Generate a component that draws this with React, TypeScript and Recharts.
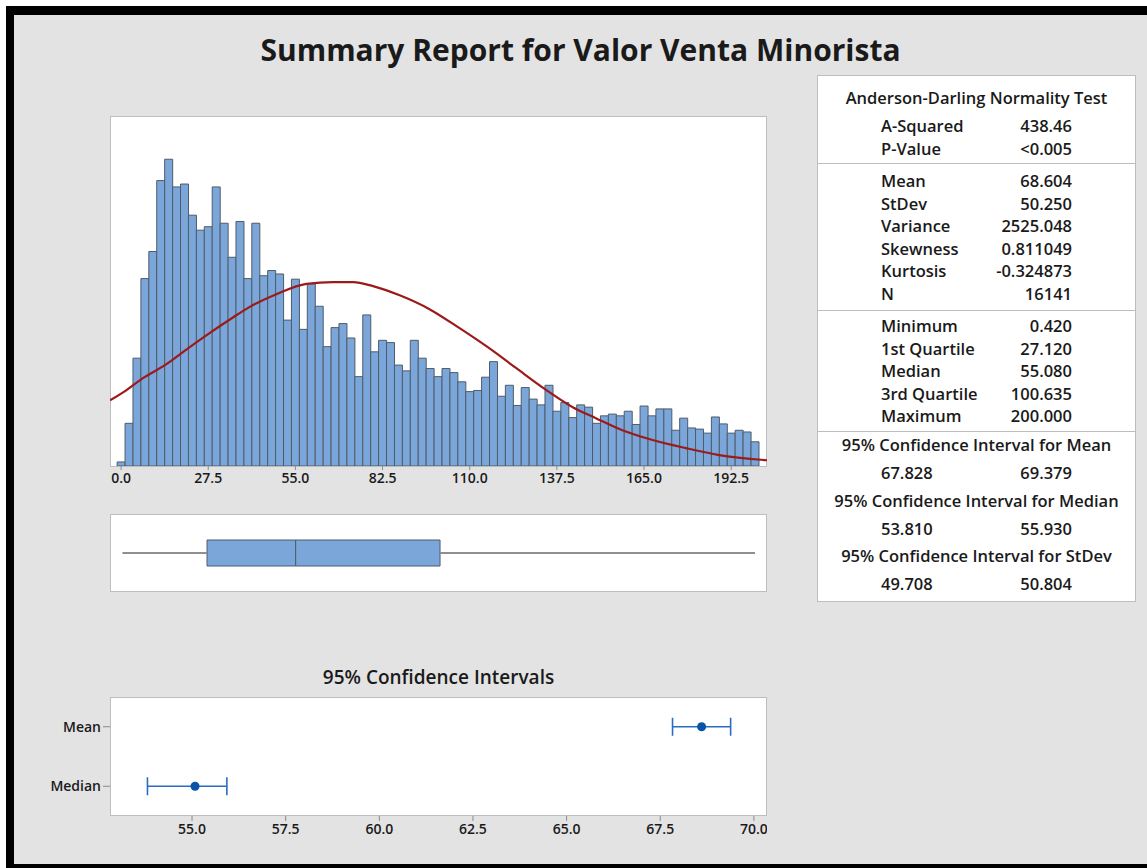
import {
  Bar,
  ComposedChart,
  ErrorBar,
  Line,
  ReferenceLine,
  Scatter,
  XAxis,
  YAxis,
  ZAxis,
} from "recharts";

const FONT = '"Segoe UI", "Open Sans", "Noto Sans", sans-serif';

// histogram: counts per 2.5-wide bin, first bin centred on 0.0
const BIN_WIDTH = 2.5;
const COUNTS = [
  7, 74, 187, 325, 372, 495, 532, 484, 489, 435,
  409, 415, 484, 421, 362, 424, 325, 421, 330, 339,
  333, 253, 324, 237, 316, 277, 207, 240, 247, 222,
  155, 262, 198, 218, 214, 175, 165, 218, 187, 169,
  155, 169, 162, 146, 129, 131, 154, 181, 121, 140,
  105, 136, 116, 106, 140, 95, 110, 84, 106, 102,
  74, 87, 90, 87, 95, 72, 104, 87, 99, 99,
  62, 83, 66, 64, 57, 85, 73, 57, 62, 59,
  42,
];
const HIST_TICKS = [0, 27.5, 55, 82.5, 110, 137.5, 165, 192.5];

// fitted normal curve
const CURVE_X = [
  -3.5, 1.25, 6, 14.4, 19.6, 27, 35.4, 40.6, 49, 58.5, 66.9, 73.2, 79.5,
  87.9, 97.3, 106.8, 115.7, 124.6, 134.1, 142.5, 149.8, 158.2, 167.7,
  178.2, 188.7, 203.8,
];
const CURVE_Y = [
  114, 130, 149, 177, 198, 227, 258, 276, 298, 316, 319, 319, 312,
  296, 272, 239, 206, 170, 132, 102, 83, 62, 45, 31, 19, 10,
];

// boxplot
const BOX_MIN = 0.42;
const BOX_Q1 = 27.12;
const BOX_MEDIAN = 55.08;
const BOX_Q3 = 100.635;
const BOX_MAX = 200;

// 95% confidence intervals
const CI_NAMES = ["Mean", "Median"];
const CI_ROW = [1, 0];
const CI_CENTER = [68.604, 55.08];
const CI_LOW = [67.828, 53.81];
const CI_HIGH = [69.379, 55.93];
const CI_TICKS = [55, 57.5, 60, 62.5, 65, 67.5, 70];

// stats table
const AD_ROWS = [
  ["A-Squared", "438.46"],
  ["P-Value", "<0.005"],
];
const MOMENT_ROWS = [
  ["Mean", "68.604"],
  ["StDev", "50.250"],
  ["Variance", "2525.048"],
  ["Skewness", "0.811049"],
  ["Kurtosis", "-0.324873"],
  ["N", "16141"],
];
const QUANTILE_ROWS = [
  ["Minimum", "0.420"],
  ["1st Quartile", "27.120"],
  ["Median", "55.080"],
  ["3rd Quartile", "100.635"],
  ["Maximum", "200.000"],
];
const CI_TITLES = [
  "95% Confidence Interval for Mean",
  "95% Confidence Interval for Median",
  "95% Confidence Interval for StDev",
];
const CI_VALUES = [
  ["67.828", "69.379"],
  ["53.810", "55.930"],
  ["49.708", "50.804"],
];

const HIST_DOMAIN: [number, number] = [-3.5, 203.8];
const PLOT_LEFT = 110;
const PLOT_W = 657;
const PX_PER_UNIT = PLOT_W / (HIST_DOMAIN[1] - HIST_DOMAIN[0]);
// pad the category (bin) axis so bins line up with the numeric curve axis
const BIN_PAD_LEFT = (-BIN_WIDTH / 2 - HIST_DOMAIN[0]) * PX_PER_UNIT;
const BIN_PAD_RIGHT =
  (HIST_DOMAIN[1] - ((COUNTS.length - 1) * BIN_WIDTH + BIN_WIDTH / 2)) * PX_PER_UNIT;

const BAR_FILL = "#7BA6D9";
const BAR_STROKE = "#4F5B6A";
const FRAME = "1px solid #BDBDBD";
const TEXT = "#1a1a1a";

const histData = COUNTS.map((count, i) => ({ x: i * BIN_WIDTH, count }));
const curveData = CURVE_X.map((x, i) => ({ cx: x, y: CURVE_Y[i] }));
const boxData = [
  { name: "box", lead: BOX_Q1, low: BOX_MEDIAN - BOX_Q1, high: BOX_Q3 - BOX_MEDIAN },
];
const ciData = CI_NAMES.map((name, i) => ({
  name,
  x: CI_CENTER[i],
  y: CI_ROW[i],
  err: [CI_CENTER[i] - CI_LOW[i], CI_HIGH[i] - CI_CENTER[i]],
}));

const tickStyle = { fontSize: 14, fill: TEXT, fontFamily: FONT, fontWeight: 600 };

function Frame({ left, top, width, height }: { left: number; top: number; width: number; height: number }) {
  return (
    <div
      style={{
        position: "absolute",
        left,
        top,
        width,
        height,
        boxSizing: "border-box",
        border: FRAME,
        background: "#fff",
      }}
    />
  );
}

function Row({ top, label, value }: { top: number; label: string; value: string }) {
  return (
    <>
      <div style={{ position: "absolute", left: 63, top: top - 11, lineHeight: "22px" }}>{label}</div>
      <div style={{ position: "absolute", right: 63, top: top - 11, lineHeight: "22px" }}>{value}</div>
    </>
  );
}

function Centered({ top, text }: { top: number; text: string }) {
  return (
    <div style={{ position: "absolute", left: 0, right: 0, top: top - 11, lineHeight: "22px", textAlign: "center" }}>
      {text}
    </div>
  );
}

function StatsTable() {
  const T = 75; // table top
  return (
    <div
      style={{
        position: "absolute",
        left: 817,
        top: T,
        width: 319,
        height: 527,
        boxSizing: "border-box",
        border: FRAME,
        background: "#fff",
        fontFamily: FONT,
        fontSize: 16.5,
        fontWeight: 600,
        color: TEXT,
        whiteSpace: "nowrap",
      }}
    >
      <Centered top={97 - T} text="Anderson-Darling Normality Test" />
      {AD_ROWS.map(([l, v], i) => (
        <Row key={l} top={125 - T + i * 22.5} label={l} value={v} />
      ))}
      <div style={{ position: "absolute", left: 0, right: 0, top: 162 - T, borderTop: FRAME }} />
      {MOMENT_ROWS.map(([l, v], i) => (
        <Row key={l} top={180 - T + i * 22.5} label={l} value={v} />
      ))}
      <div style={{ position: "absolute", left: 0, right: 0, top: 309 - T, borderTop: FRAME }} />
      {QUANTILE_ROWS.map(([l, v], i) => (
        <Row key={l} top={325 - T + i * 22.5} label={l} value={v} />
      ))}
      <div style={{ position: "absolute", left: 0, right: 0, top: 430 - T, borderTop: FRAME }} />
      {CI_TITLES.map((t, i) => (
        <Centered key={t} top={444 - T + i * 55.5} text={t} />
      ))}
      {CI_VALUES.map(([lo, hi], i) => (
        <Row key={lo} top={472 - T + i * 55.5} label={lo} value={hi} />
      ))}
    </div>
  );
}

export default function App() {
  return (
    <div
      style={{
        position: "absolute",
        left: 0,
        top: 0,
        width: 1147,
        height: 868,
        background: "#fff",
        overflow: "hidden",
        fontFamily: FONT,
      }}
    >
      <div style={{ position: "absolute", left: 6, top: 6, width: 1141, height: 862, background: "#000" }} />
      <div style={{ position: "absolute", left: 14, top: 15, width: 1133, height: 849, background: "#E3E3E3" }} />

      <div
        style={{
          position: "absolute",
          left: 14,
          width: 1133,
          top: 29,
          lineHeight: "42px",
          textAlign: "center",
          fontSize: 30,
          fontWeight: 700,
          color: TEXT,
        }}
      >
        Summary Report for Valor Venta Minorista
      </div>

      {/* histogram with fitted normal curve */}
      <Frame left={PLOT_LEFT} top={116} width={PLOT_W} height={351} />
      <div style={{ position: "absolute", left: PLOT_LEFT, top: 116 }}>
        <ComposedChart
          width={PLOT_W}
          height={380}
          data={histData}
          barCategoryGap={0}
          margin={{ top: 0, right: 0, bottom: 0, left: 0 }}
        >
          <XAxis
            type="category"
            dataKey="x"
            ticks={HIST_TICKS}
            interval={0}
            padding={{ left: BIN_PAD_LEFT, right: BIN_PAD_RIGHT }}
            tickFormatter={(v: number) => Number(v).toFixed(1)}
            axisLine={false}
            tickSize={4}
            tickMargin={3}
            tickLine={{ stroke: "#8a8a8a" }}
            tick={tickStyle}
            height={30}
          />
          <XAxis
            xAxisId="curve"
            type="number"
            dataKey="cx"
            domain={HIST_DOMAIN}
            allowDataOverflow
            hide
          />
          <YAxis type="number" hide domain={[0, 607]} allowDataOverflow />
          <Bar
            dataKey="count"
            fill={BAR_FILL}
            stroke={BAR_STROKE}
            strokeWidth={1}
            isAnimationActive={false}
          />
          <Line
            xAxisId="curve"
            data={curveData}
            dataKey="y"
            type="monotone"
            stroke="#9C1A1A"
            strokeWidth={2.2}
            dot={false}
            activeDot={false}
            isAnimationActive={false}
          />
        </ComposedChart>
      </div>

      {/* boxplot */}
      <Frame left={PLOT_LEFT} top={514} width={PLOT_W} height={78} />
      <div style={{ position: "absolute", left: PLOT_LEFT, top: 514 }}>
        <ComposedChart
          width={PLOT_W}
          height={78}
          layout="vertical"
          data={boxData}
          margin={{ top: 0, right: 0, bottom: 0, left: 0 }}
        >
          <XAxis type="number" hide domain={HIST_DOMAIN} allowDataOverflow />
          <YAxis type="category" dataKey="name" hide />
          <ReferenceLine
            segment={[
              { x: BOX_MIN, y: "box" },
              { x: BOX_Q1, y: "box" },
            ]}
            stroke="#8F8F8F"
            strokeWidth={2}
          />
          <ReferenceLine
            segment={[
              { x: BOX_Q3, y: "box" },
              { x: BOX_MAX, y: "box" },
            ]}
            stroke="#8F8F8F"
            strokeWidth={2}
          />
          <Bar dataKey="lead" stackId="b" fill="transparent" barSize={26} isAnimationActive={false} />
          <Bar dataKey="low" stackId="b" fill={BAR_FILL} stroke={BAR_STROKE} barSize={26} isAnimationActive={false} />
          <Bar dataKey="high" stackId="b" fill={BAR_FILL} stroke={BAR_STROKE} barSize={26} isAnimationActive={false} />
        </ComposedChart>
      </div>

      {/* 95% confidence intervals */}
      <div
        style={{
          position: "absolute",
          left: PLOT_LEFT,
          width: PLOT_W,
          top: 665,
          lineHeight: "24px",
          textAlign: "center",
          fontSize: 19,
          fontWeight: 600,
          color: TEXT,
        }}
      >
        95% Confidence Intervals
      </div>
      <Frame left={PLOT_LEFT} top={697} width={PLOT_W} height={119} />
      <div style={{ position: "absolute", left: PLOT_LEFT - 90, top: 697 }}>
        <ComposedChart width={PLOT_W + 90} height={153} margin={{ top: 0, right: 0, bottom: 0, left: 0 }}>
          <XAxis
            type="number"
            dataKey="x"
            domain={[52.81, 70.35]}
            allowDataOverflow
            ticks={CI_TICKS}
            interval={0}
            tickFormatter={(v: number) => v.toFixed(1)}
            axisLine={false}
            tickSize={5}
            tickMargin={3}
            tickLine={{ stroke: "#8a8a8a" }}
            tick={tickStyle}
            height={34}
          />
          <YAxis
            type="number"
            dataKey="y"
            domain={[-0.5, 1.5]}
            ticks={[0, 1]}
            interval={0}
            width={90}
            tickFormatter={(v: number) => CI_NAMES[CI_ROW.indexOf(v)]}
            axisLine={false}
            tickSize={7}
            tickMargin={2}
            tickLine={{ stroke: "#8a8a8a" }}
            tick={tickStyle}
          />
          <ZAxis range={[80, 80]} />
          <Scatter data={ciData} fill="#0A53A8" isAnimationActive={false}>
            <ErrorBar dataKey="err" direction="x" width={9} stroke="#2A6CC2" strokeWidth={1.6} />
          </Scatter>
        </ComposedChart>
      </div>

      <StatsTable />
    </div>
  );
}
